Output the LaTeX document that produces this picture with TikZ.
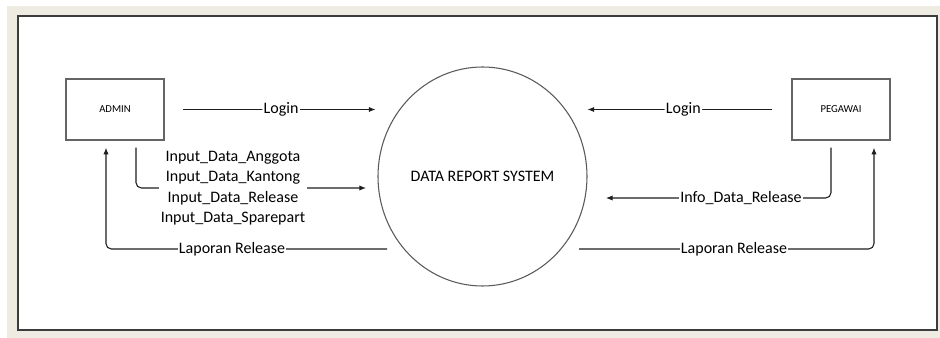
\documentclass[tikz,border=0pt]{standalone}
\usepackage{fontspec}
\setmainfont{Carlito}
\usetikzlibrary{arrows.meta,shapes.geometric}

\tikzset{every picture/.style={line width=0.75pt}}
\tikzset{
  entity/.style={draw={rgb,255:red,100;green,100;blue,100}, line width=1.1pt, minimum width=73.5pt, minimum height=45.75pt, inner sep=0pt, font=\fontsize{8}{9}\selectfont},
  process/.style={ellipse, draw={rgb,255:red,90;green,90;blue,90}, line width=0.8pt, minimum width=156.75pt, minimum height=164.25pt, inner sep=0pt, font=\fontsize{12}{14}\selectfont},
  flow/.style={draw={rgb,255:red,30;green,30;blue,30}, line width=0.8pt, rounded corners=4pt, -{Latex[length=5pt,width=4pt]}},
  lbl/.style={fill=white, inner sep=1pt, font=\fontsize{12}{15.4}\selectfont, align=center}
}

\begin{document}
\begin{tikzpicture}[x=0.75pt,y=0.75pt,yscale=-1,xscale=1]
\useasboundingbox (0,0) rectangle (940,338);

%Shape: Rectangle [background]
\fill [color={rgb, 255:red, 237; green, 235; blue, 226 }] (7,6) rectangle (940,338) ;
\draw [color={rgb, 255:red, 60; green, 60; blue, 60 }, line width=1.2pt, fill=white] (18,16) rectangle (937,330) ;

%Shape: Entities and process
\node [entity] (admin) at (115,109.5) {ADMIN};
\node [entity] (pegawai) at (841,109.5) {PEGAWAI};
\node [process] (sys) at (482.5,176.5) {DATA REPORT SYSTEM};

%Free ends
\coordinate (inEnd) at (366,188);
\coordinate (infoEnd) at (606,198);
\coordinate (lapA) at (387,249);
\coordinate (lapB) at (579,249);

%Straight Lines [login]
\draw [flow, shorten <=13.5pt, shorten >=1.5pt] (admin.east) -- (admin.east -| sys.west) node [lbl, pos=0.547] (loginA) {Login};
\draw [flow, shorten <=14.25pt] (pegawai.west) -- (pegawai.west -| sys.east) node [lbl, pos=0.53] (loginB) {Login};

%Elbow Lines [input data]
\draw [flow, shorten <=5.25pt] ([xshift=15.75pt]admin.south) |- (inEnd) ;
\node [lbl] (inputs) at (233,188) {Input\_Data\_Anggota\\Input\_Data\_Kantong\\Input\_Data\_Release\\Input\_Data\_Sparepart};

%Elbow Lines [laporan]
\draw [flow, shorten >=5.25pt] (lapA) -| ([xshift=-6.75pt]admin.south) ;
\node [lbl] (lapLblA) at (232,249) {Laporan Release};
\draw [flow, shorten >=5.25pt] (lapB) -| ([xshift=24.75pt]pegawai.south) ;
\node [lbl] (lapLblB) at (734,249) {Laporan Release};

%Elbow Lines [info]
\draw [flow, shorten <=5.25pt] ([xshift=-7.5pt]pegawai.south) |- (infoEnd) ;
\node [lbl] (info) at (741,198) {Info\_Data\_Release};

\end{tikzpicture}
\end{document}
